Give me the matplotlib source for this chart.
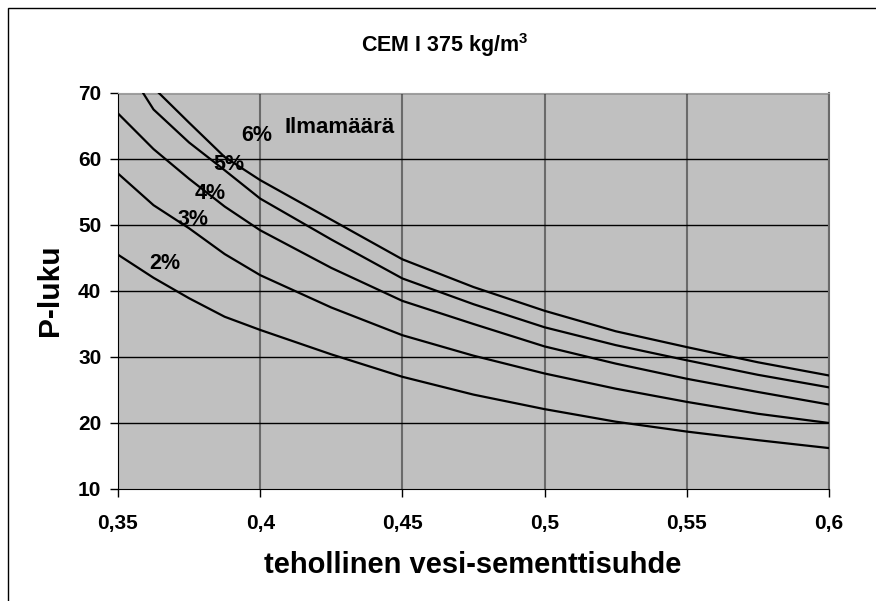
import matplotlib
matplotlib.use("Agg")
import matplotlib.pyplot as plt
from matplotlib.patches import Rectangle

plt.rcParams['font.family'] = ['Liberation Sans', 'DejaVu Sans']
plt.rcParams['mathtext.default'] = 'regular'

# Data
wc = [0.35, 0.3625, 0.375, 0.3875, 0.4, 0.425, 0.45, 0.475, 0.5, 0.525, 0.55, 0.575, 0.6]
p_2 = [45.5, 42.0, 38.9, 36.1, 34.1, 30.4, 27.0, 24.3, 22.1, 20.2, 18.7, 17.4, 16.2]
p_3 = [57.8, 53.0, 49.5, 45.6, 42.4, 37.5, 33.3, 30.2, 27.5, 25.2, 23.2, 21.4, 20.0]
p_4 = [66.9, 61.5, 57.0, 52.8, 49.2, 43.5, 38.5, 35.0, 31.6, 29.0, 26.7, 24.7, 22.8]
p_5 = [76.0, 67.5, 62.5, 58.3, 54.0, 47.8, 41.9, 38.0, 34.5, 31.8, 29.5, 27.3, 25.4]
p_6 = [78.5, 70.8, 65.5, 60.3, 56.8, 50.8, 44.8, 40.6, 37.0, 33.9, 31.5, 29.2, 27.2]
series = [p_2, p_3, p_4, p_5, p_6]
labels = ['2%', '3%', '4%', '5%', '6%']
label_pos = [(0.3665, 44.1), (0.3763, 50.8), (0.3823, 54.8), (0.389, 59.1), (0.3988, 63.6)]
x_ticks = [0.35, 0.4, 0.45, 0.5, 0.55, 0.6]
x_ticklabels = ['0,35', '0,4', '0,45', '0,5', '0,55', '0,6']
y_ticks = [10, 20, 30, 40, 50, 60, 70]

fig = plt.figure(figsize=(8.76, 6.01), dpi=100)
fig.patches.append(Rectangle((8/876, -0.1), 1.2, 1 - 8/601 + 0.1, transform=fig.transFigure,
                             fill=False, edgecolor='black', linewidth=1.0))

ax = fig.add_axes([118/876, 1 - 489/601, (829 - 118)/876, (489 - 93)/601])
ax.set_facecolor('#c0c0c0')

for x in x_ticks[1:]:
    ax.axvline(x, color='#6a6a6a', linewidth=1.5, zorder=1)
for y in y_ticks[1:]:
    ax.axhline(y, color='black', linewidth=1.0, zorder=1)

for s in series:
    ax.plot(wc, s, color='black', linewidth=1.6, zorder=3)

for lab, (lx, ly) in zip(labels, label_pos):
    ax.text(lx, ly, lab, ha='center', va='center', fontsize=15.5, fontweight='bold', zorder=4)
ax.text(0.4279, 64.8, 'Ilmamäärä', ha='center', va='center', fontsize=16, fontweight='bold', zorder=4)

ax.set_xlim(0.35, 0.6)
ax.set_ylim(10, 70)
ax.set_xticks(x_ticks)
ax.set_xticklabels(x_ticklabels)
ax.set_yticks(y_ticks)
ax.tick_params(axis='both', direction='out', length=6, width=1, labelsize=15, colors='black')
ax.tick_params(axis='x', pad=12)
ax.tick_params(axis='y', pad=6)
for t in ax.get_xticklabels() + ax.get_yticklabels():
    t.set_fontweight('bold')

ax.spines['left'].set_color('black')
ax.spines['bottom'].set_color('black')
ax.spines['right'].set_color('#6a6a6a')
ax.spines['right'].set_linewidth(1.5)
ax.spines['top'].set_color('#a0a0a0')

fig.text(473/876, 1 - 565/601, 'tehollinen vesi-sementtisuhde', ha='center', va='center',
         fontsize=21, fontweight='bold')
fig.text(50/876, 1 - 290/601, 'P-luku', ha='center', va='center', rotation=90,
         fontsize=21.5, fontweight='bold')

fig.text(445/876, 1 - 45/601, 'CEM I 375 kg/m$^3$', ha='center', va='center',
         fontsize=15.5, fontweight='bold')

fig.savefig('out.png', dpi=100)
